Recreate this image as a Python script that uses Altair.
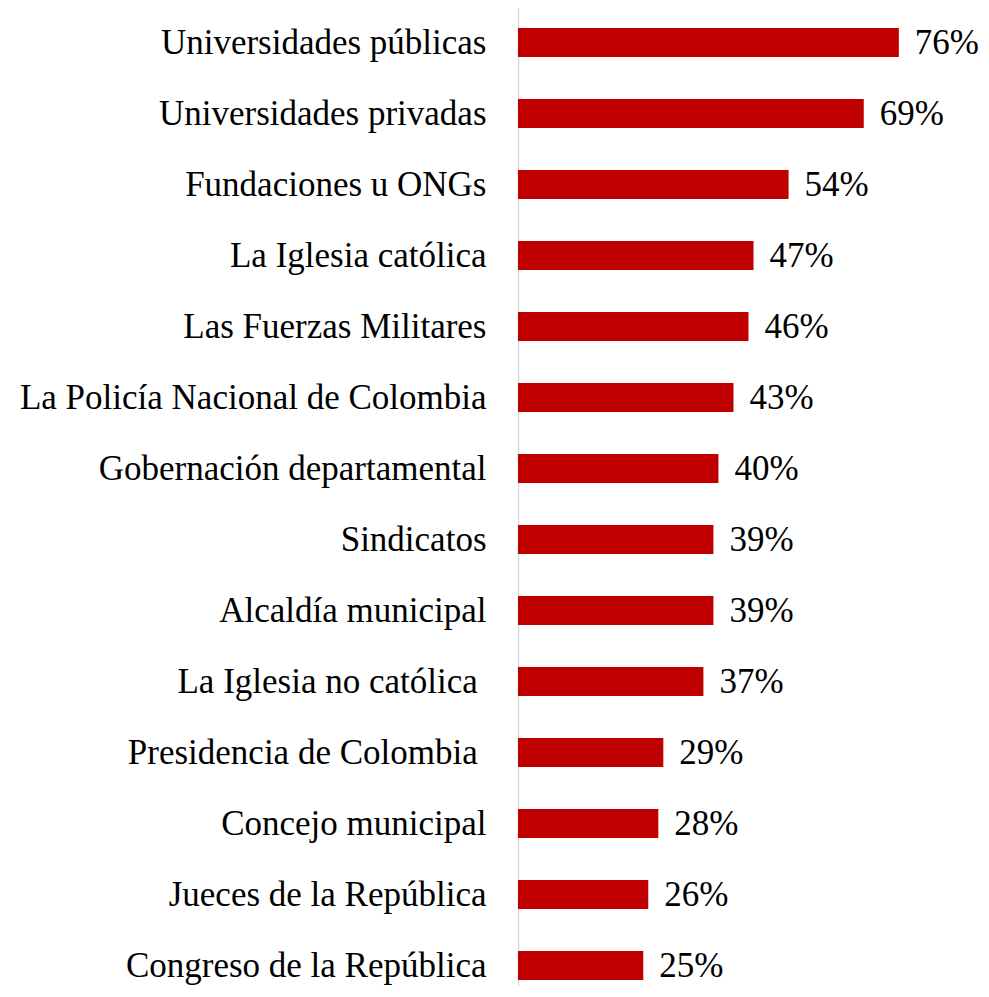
import altair as alt
import pandas as pd

categories = [
    "Universidades públicas",
    "Universidades privadas",
    "Fundaciones u ONGs",
    "La Iglesia católica",
    "Las Fuerzas Militares",
    "La Policía Nacional de Colombia",
    "Gobernación departamental",
    "Sindicatos",
    "Alcaldía municipal",
    "La Iglesia no católica\u2005\u200b",
    "Presidencia de Colombia\u2005\u200b",
    "Concejo municipal",
    "Jueces de la República",
    "Congreso de la República",
]
values = [76, 69, 54, 47, 46, 43, 40, 39, 39, 37, 29, 28, 26, 25]
labels = [f"{v}%" for v in values]

df = pd.DataFrame({"cat": categories, "val": values, "lab": labels})

FONT = "Liberation Serif"

y = alt.Y(
    "cat:N",
    sort=categories,
    title=None,
    scale=alt.Scale(range=[-1, 993], paddingInner=0.59, paddingOuter=0.295),
    axis=alt.Axis(
        ticks=False,
        domain=True,
        domainColor="#d9d9d9",
        domainWidth=1.5,
        labelFont=FONT,
        labelFontSize=35,
        labelColor="#000000",
        labelPadding=32,
        labelLimit=600,
    ),
)
x = alt.X("val:Q", title=None, scale=alt.Scale(domain=[0, 90]), axis=None)

bars = alt.Chart(df).mark_bar(color="#C00000").encode(x=x, y=y)
text = alt.Chart(df).mark_text(
    align="left", baseline="middle", dx=16, font=FONT, fontSize=35, color="#000000"
).encode(x=x, y=y, text="lab:N")

chart = (
    (bars + text)
    .properties(
        width=451,
        height=978,
        autosize=alt.AutoSizeParams(type="none"),
        padding={"left": 510, "top": 0, "right": 10, "bottom": 0},
    )
    .configure_view(stroke=None)
)

chart.save("out.html", embed_options={"renderer": "svg", "actions": False})
